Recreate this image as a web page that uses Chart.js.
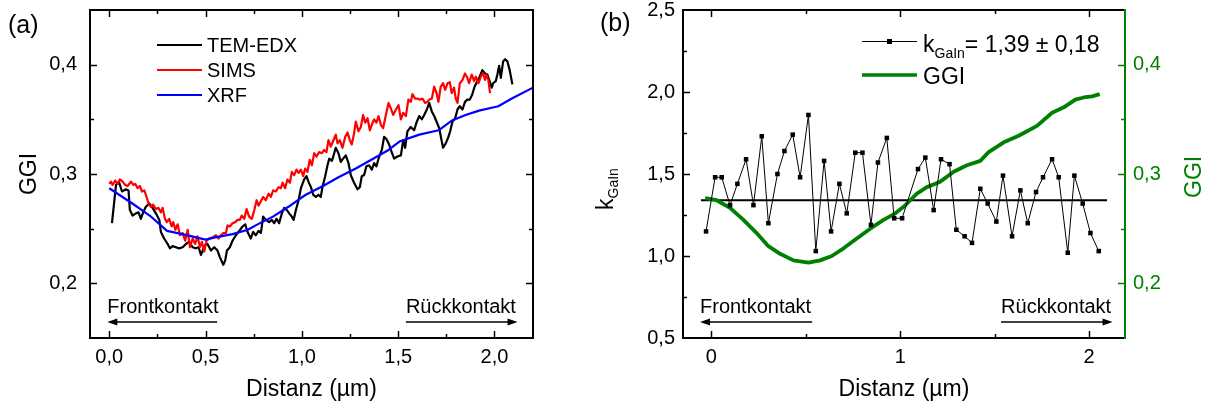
<!DOCTYPE html>
<html lang="de">
<head>
<meta charset="utf-8">
<title>GGI-Tiefenprofile und k_GaIn</title>
<script src="https://cdn.jsdelivr.net/npm/chart.js@4.4.1/dist/chart.umd.min.js"></script>
<style>
  html, body { margin: 0; padding: 0; background: #ffffff; }
  #figure { position: relative; width: 1206px; height: 405px; overflow: hidden; background: #ffffff; }
  #panelA { position: absolute; left: 0; top: 0; }
  #panelB { position: absolute; left: 590px; top: 0; }
</style>
</head>
<body>
<div id="figure">
  <canvas id="panelA" width="590" height="405"></canvas>
  <canvas id="panelB" width="616" height="405"></canvas>
</div>
<script>
// ---------- Panel (a): GGI depth profiles from three methods ----------
const temDist = [0.014,0.035,0.052,0.066,0.087,0.100,0.107,0.121,0.138,0.152,
  0.164,0.176,0.190,0.208,0.225,0.242,0.260,0.268,0.285,0.303,
  0.315,0.329,0.346,0.363,0.381,0.398,0.415,0.433,0.450,0.464,
  0.476,0.485,0.498,0.510,0.528,0.545,0.562,0.574,0.592,0.602,
  0.611,0.626,0.640,0.657,0.675,0.692,0.706,0.718,0.735,0.747,
  0.761,0.775,0.787,0.799,0.813,0.830,0.844,0.856,0.868,0.882,
  0.896,0.908,0.922,0.934,0.948,0.957,0.969,0.983,0.995,1.012,
  1.024,1.034,1.047,1.059,1.073,1.086,1.098,1.107,1.121,1.133,
  1.142,1.156,1.168,1.176,1.190,1.202,1.214,1.228,1.242,1.254,
  1.271,1.289,1.301,1.311,1.323,1.335,1.349,1.363,1.375,1.387,
  1.398,1.415,1.427,1.439,1.453,1.462,1.479,1.496,1.514,1.526,
  1.536,1.548,1.565,1.583,1.595,1.609,1.623,1.635,1.649,1.661,
  1.675,1.687,1.699,1.713,1.725,1.733,1.747,1.759,1.770,1.782,
  1.796,1.808,1.820,1.834,1.847,1.859,1.872,1.885,1.897,1.911,
  1.923,1.937,1.951,1.963,1.975,1.986,1.993,2.007,2.015,2.024,
  2.033,2.045,2.055,2.067,2.079,2.093];
const temGGI = [0.255,0.290,0.292,0.284,0.286,0.285,0.267,0.262,0.264,0.265,
  0.259,0.265,0.270,0.273,0.269,0.264,0.258,0.247,0.241,0.236,
  0.232,0.234,0.233,0.232,0.233,0.236,0.238,0.233,0.232,0.233,
  0.226,0.230,0.235,0.236,0.230,0.233,0.230,0.224,0.217,0.221,
  0.230,0.233,0.239,0.244,0.248,0.252,0.254,0.247,0.241,0.247,
  0.244,0.248,0.246,0.261,0.258,0.256,0.258,0.255,0.259,0.255,
  0.264,0.269,0.267,0.264,0.261,0.258,0.267,0.276,0.287,0.295,
  0.298,0.293,0.288,0.281,0.279,0.281,0.279,0.288,0.298,0.308,
  0.314,0.312,0.319,0.324,0.319,0.311,0.314,0.317,0.310,0.299,
  0.292,0.286,0.288,0.298,0.299,0.307,0.308,0.304,0.310,0.307,
  0.314,0.322,0.334,0.332,0.327,0.322,0.314,0.316,0.317,0.331,
  0.324,0.339,0.343,0.340,0.347,0.353,0.350,0.354,0.359,0.365,
  0.357,0.353,0.348,0.342,0.331,0.324,0.328,0.333,0.339,0.348,
  0.351,0.359,0.362,0.359,0.366,0.368,0.368,0.373,0.380,0.385,
  0.389,0.395,0.392,0.391,0.385,0.379,0.383,0.385,0.391,0.399,
  0.388,0.403,0.405,0.403,0.395,0.382];

const simsDist = [0.000,0.009,0.017,0.031,0.043,0.055,0.069,0.083,0.095,0.113,
  0.125,0.135,0.147,0.159,0.170,0.182,0.194,0.204,0.216,0.228,
  0.242,0.256,0.268,0.277,0.289,0.299,0.311,0.324,0.332,0.343,
  0.355,0.367,0.381,0.394,0.407,0.419,0.433,0.446,0.458,0.471,
  0.481,0.493,0.505,0.519,0.536,0.554,0.567,0.580,0.592,0.606,
  0.614,0.626,0.640,0.654,0.666,0.678,0.688,0.701,0.713,0.726,
  0.740,0.753,0.765,0.775,0.787,0.799,0.813,0.827,0.839,0.851,
  0.865,0.879,0.891,0.900,0.913,0.925,0.938,0.948,0.960,0.972,
  0.983,0.995,1.007,1.017,1.029,1.041,1.052,1.064,1.076,1.090,
  1.104,1.116,1.128,1.138,1.150,1.162,1.176,1.185,1.197,1.211,
  1.225,1.237,1.249,1.259,1.271,1.280,1.294,1.306,1.318,1.329,
  1.341,1.353,1.363,1.375,1.387,1.398,1.410,1.422,1.436,1.450,
  1.462,1.474,1.488,1.502,1.514,1.526,1.540,1.553,1.566,1.574,
  1.588,1.600,1.612,1.626,1.640,1.652,1.661,1.675,1.687,1.699,
  1.709,1.721,1.733,1.744,1.756,1.768,1.778,1.790,1.799,1.808,
  1.820,1.834,1.847,1.859,1.868,1.882,1.894,1.903,1.917,1.929,
  1.941,1.951,1.958,1.968,1.977];
const simsGGI = [0.291,0.293,0.290,0.294,0.291,0.295,0.293,0.290,0.289,0.293,
  0.290,0.291,0.287,0.289,0.284,0.285,0.279,0.273,0.270,0.272,
  0.268,0.269,0.265,0.269,0.259,0.256,0.259,0.252,0.256,0.249,
  0.254,0.244,0.246,0.239,0.249,0.233,0.241,0.236,0.243,0.233,
  0.238,0.229,0.239,0.241,0.242,0.244,0.241,0.244,0.246,0.246,
  0.253,0.252,0.255,0.256,0.258,0.258,0.262,0.259,0.268,0.261,
  0.259,0.267,0.276,0.271,0.275,0.279,0.276,0.282,0.279,0.285,
  0.284,0.288,0.287,0.292,0.287,0.295,0.292,0.302,0.299,0.304,
  0.301,0.304,0.298,0.305,0.302,0.313,0.308,0.319,0.316,0.320,
  0.319,0.322,0.320,0.331,0.325,0.330,0.336,0.328,0.331,0.324,
  0.334,0.338,0.331,0.327,0.337,0.348,0.339,0.343,0.354,0.347,
  0.351,0.340,0.345,0.350,0.347,0.353,0.345,0.342,0.354,0.365,
  0.360,0.354,0.359,0.363,0.350,0.356,0.353,0.368,0.366,0.373,
  0.369,0.369,0.368,0.369,0.365,0.366,0.368,0.369,0.380,0.374,
  0.366,0.380,0.383,0.377,0.383,0.384,0.374,0.379,0.369,0.365,
  0.383,0.386,0.392,0.388,0.383,0.391,0.385,0.389,0.383,0.389,
  0.392,0.386,0.391,0.386,0.374];

const xrfDist = [0.00,0.12,0.21,0.30,0.38,0.45,0.50,0.55,0.64,0.72,0.76,0.85,0.93,1.02,
  1.11,1.19,1.28,1.37,1.45,1.51,1.61,1.71,1.78,1.85,1.92,2.02,2.09,2.20];
const xrfGGI = [0.287,0.273,0.262,0.248,0.245,0.242,0.240,0.242,0.245,0.249,0.253,0.261,0.270,0.281,
  0.289,0.297,0.305,0.314,0.322,0.330,0.336,0.340,0.349,0.354,0.358,0.362,0.369,0.379];

const ticksA_x = [0, 0.5, 1, 1.5, 2];
const ticksA_y = [0.2, 0.3, 0.4];
const tickMarksA_x = [0, 0.25, 0.5, 0.75, 1, 1.25, 1.5, 1.75, 2];
const tickMarksA_y = [0.2, 0.25, 0.3, 0.35, 0.4];
const frontA = [-0.01, 0.56];
const backA = [1.54, 2.12];

// ---------- Panel (b): k_GaIn and GGI along the same line ----------
const kDist = [-0.028,0.020,0.055,0.099,0.138,0.184,0.223,0.267,0.302,0.350,
  0.387,0.431,0.470,0.514,0.553,0.597,0.634,0.678,0.717,0.762,
  0.800,0.845,0.882,0.929,0.968,1.010,1.094,1.133,1.177,
  1.216,1.261,1.297,1.341,1.380,1.424,1.463,1.509,1.544,1.592,
  1.636,1.675,1.719,1.756,1.804,1.839,1.887,1.922,1.966,2.007,2.051];
const kVal = [1.15,1.48,1.48,1.31,1.44,1.59,1.31,1.73,1.20,1.50,
  1.64,1.74,1.48,1.86,1.03,1.58,1.15,1.44,1.26,1.63,
  1.63,1.19,1.57,1.72,1.23,1.23,1.53,1.60,1.28,
  1.59,1.56,1.16,1.12,1.08,1.41,1.32,1.21,1.49,1.12,
  1.40,1.20,1.39,1.48,1.59,1.48,1.02,1.49,1.32,1.14,1.03];
const kMean = 1.34;
const kMeanDist = [-0.055, 2.095];

const ggiDist = [-0.033,0.028,0.099,0.170,0.240,0.302,0.364,0.435,0.514,0.576,
  0.638,0.700,0.770,0.841,0.912,0.974,1.018,1.053,1.088,1.141,
  1.212,1.283,1.353,1.424,1.468,1.548,1.627,1.724,1.804,1.866,
  1.927,1.971,2.016,2.056];
const ggiVal = [0.278,0.276,0.269,0.258,0.246,0.234,0.227,0.221,0.219,0.221,
  0.225,0.232,0.241,0.250,0.258,0.264,0.270,0.276,0.282,0.288,
  0.293,0.302,0.308,0.312,0.320,0.329,0.335,0.344,0.356,0.361,
  0.368,0.370,0.371,0.373];

const ticksB_x = [0, 1, 2];
const ticksB_y = [0.5, 1, 1.5, 2, 2.5];
const ticksB_y2 = [0.2, 0.3, 0.4];
const tickMarksB_x = [0, 0.5, 1, 1.5, 2];
const tickMarksB_y = [0.75, 1, 1.25, 1.5, 1.75, 2, 2.25];
const tickMarksB_y2 = [0.2, 0.25, 0.3, 0.35, 0.4];
const frontB = [-0.06, 0.534];
const backB = [1.534, 2.124];

// ---------- shared helpers ----------
const FONT = "'Liberation Sans', Arial, Helvetica, sans-serif";
const GREEN = '#008000';
Chart.defaults.font.family = FONT;
Chart.defaults.color = '#000';

const comma = (v, d) => v.toFixed(d).replace('.', ',');
const xy = (xs, ys) => xs.map((x, i) => ({ x: x, y: ys[i] }));

// fixed axis box size, no extra label padding pushed into the layout
function sized(size, horizontal) {
  return function (scale) {
    if (horizontal) scale.height = size; else scale.width = size;
    scale.paddingTop = 0; scale.paddingBottom = 0;
    scale.paddingLeft = 0; scale.paddingRight = 0;
  };
}
function setTicks(values) {
  return function (scale) { scale.ticks = values.map(v => ({ value: v })); };
}

// tick marks pointing into the plot box
function inwardTicks(ctx, scale, marks, majors, sides, a, color) {
  ctx.strokeStyle = color;
  ctx.lineWidth = 1.5;
  marks.forEach(v => {
    const p = Math.round(scale.getPixelForValue(v)) + 0.5;
    const len = majors.includes(v) ? 7 : 4;
    sides.forEach(side => {
      ctx.beginPath();
      if (side === 'bottom') { ctx.moveTo(p, a.bottom); ctx.lineTo(p, a.bottom - len); }
      if (side === 'top') { ctx.moveTo(p, a.top); ctx.lineTo(p, a.top + len); }
      if (side === 'left') { ctx.moveTo(a.left, p); ctx.lineTo(a.left + len, p); }
      if (side === 'right') { ctx.moveTo(a.right, p); ctx.lineTo(a.right - len, p); }
      ctx.stroke();
    });
  });
}

function arrow(ctx, x0, x1, y, pointLeft) {
  ctx.lineWidth = 1.5;
  ctx.beginPath();
  ctx.moveTo(pointLeft ? x0 + 6 : x0, y);
  ctx.lineTo(pointLeft ? x1 : x1 - 6, y);
  ctx.stroke();
  const tip = pointLeft ? x0 : x1;
  const dir = pointLeft ? 1 : -1;
  ctx.beginPath();
  ctx.moveTo(tip, y);
  ctx.lineTo(tip + dir * 10, y - 3.5);
  ctx.lineTo(tip + dir * 10, y + 3.5);
  ctx.closePath();
  ctx.fill();
}

// "Frontkontakt" / "Rückkontakt" direction markers above the x axis
function contactLabels(ctx, xs, a, front, back) {
  ctx.fillStyle = '#000';
  ctx.strokeStyle = '#000';
  ctx.font = '20px ' + FONT;
  ctx.textAlign = 'left';
  ctx.textBaseline = 'alphabetic';
  const y = a.bottom - 16;
  const f0 = xs.getPixelForValue(front[0]), f1 = xs.getPixelForValue(front[1]);
  ctx.fillText('Frontkontakt', f0, a.bottom - 25);
  arrow(ctx, f0, f1, y, true);
  const b0 = xs.getPixelForValue(back[0]), b1 = xs.getPixelForValue(back[1]);
  ctx.fillText('Rückkontakt', b0, a.bottom - 25);
  arrow(ctx, b0, b1, y, false);
}

function axisStyle(extra) {
  return Object.assign({
    type: 'linear',
    grid: { display: false, drawTicks: false },
    border: { display: false }
  }, extra);
}

// ---------- panel (a) ----------
const panelAOverlay = {
  id: 'panelAOverlay',
  afterDraw(chart) {
    const { ctx, chartArea: a, scales } = chart;
    ctx.save();
    ctx.strokeStyle = '#000';
    ctx.lineWidth = 2;
    ctx.strokeRect(a.left, a.top, a.right - a.left, a.bottom - a.top);
    inwardTicks(ctx, scales.x, tickMarksA_x, ticksA_x, ['bottom', 'top'], a, '#000');
    inwardTicks(ctx, scales.y, tickMarksA_y, ticksA_y, ['left', 'right'], a, '#000');

    // legend
    ctx.font = '20px ' + FONT;
    ctx.textAlign = 'left';
    ctx.textBaseline = 'middle';
    chart.data.datasets.forEach((ds, i) => {
      const y = a.top + 35 + 25 * i;
      ctx.strokeStyle = ds.borderColor;
      ctx.lineWidth = 2.2;
      ctx.beginPath();
      ctx.moveTo(a.left + 67, y);
      ctx.lineTo(a.left + 112, y);
      ctx.stroke();
      ctx.fillStyle = '#000';
      ctx.fillText(ds.label, a.left + 117, y + 1);
    });

    contactLabels(ctx, scales.x, a, frontA, backA);

    ctx.fillStyle = '#000';
    ctx.font = '25px ' + FONT;
    ctx.textBaseline = 'alphabetic';
    ctx.textAlign = 'left';
    ctx.fillText('(a)', 8, 33);
    ctx.restore();
  }
};

new Chart(document.getElementById('panelA'), {
  type: 'line',
  data: {
    datasets: [
      { label: 'TEM-EDX', data: xy(temDist, temGGI), borderColor: '#000000', borderWidth: 2.2, order: 3 },
      { label: 'SIMS', data: xy(simsDist, simsGGI), borderColor: '#ff0000', borderWidth: 2.2, order: 2 },
      { label: 'XRF', data: xy(xrfDist, xrfGGI), borderColor: '#0000ff', borderWidth: 2.2, order: 1 }
    ]
  },
  options: {
    responsive: false,
    animation: false,
    events: [],
    layout: { padding: { top: 10, right: 57, bottom: 0, left: 0 } },
    elements: {
      point: { radius: 0 },
      line: { tension: 0, fill: false, borderJoinStyle: 'round' }
    },
    plugins: { legend: { display: false }, tooltip: { enabled: false } },
    scales: {
      x: axisStyle({
        position: 'bottom', min: -0.1, max: 2.2,
        afterBuildTicks: setTicks(ticksA_x),
        afterFit: sized(67, true),
        ticks: { padding: 7, font: { size: 20 }, color: '#000', autoSkip: false, maxRotation: 0,
                 callback: v => comma(v, 1) },
        title: { display: true, text: 'Distanz (µm)', color: '#000', font: { size: 23 },
                 padding: { top: 0, bottom: 2 } }
      }),
      y: axisStyle({
        position: 'left', min: 0.15, max: 0.45,
        afterBuildTicks: setTicks(ticksA_y),
        afterFit: sized(90, false),
        ticks: { padding: 13, font: { size: 20 }, color: '#000', autoSkip: false,
                 callback: v => comma(v, 1) },
        title: { display: true, text: 'GGI', color: '#000', font: { size: 23 },
                 padding: { top: 16, bottom: 0 } }
      })
    }
  },
  plugins: [panelAOverlay]
});

// ---------- panel (b) ----------
const panelBOverlay = {
  id: 'panelBOverlay',
  afterDraw(chart) {
    const { ctx, chartArea: a, scales } = chart;
    ctx.save();
    // frame: black on three sides, green GGI axis on the right
    ctx.lineWidth = 2;
    ctx.strokeStyle = '#000';
    ctx.beginPath();
    ctx.moveTo(a.right, a.top);
    ctx.lineTo(a.left, a.top);
    ctx.lineTo(a.left, a.bottom);
    ctx.lineTo(a.right, a.bottom);
    ctx.stroke();
    ctx.strokeStyle = GREEN;
    ctx.beginPath();
    ctx.moveTo(a.right, a.top - 1);
    ctx.lineTo(a.right, a.bottom + 1);
    ctx.stroke();

    inwardTicks(ctx, scales.x, tickMarksB_x, ticksB_x, ['bottom', 'top'], a, '#000');
    inwardTicks(ctx, scales.y, tickMarksB_y, ticksB_y, ['left'], a, '#000');
    inwardTicks(ctx, scales.y2, tickMarksB_y2, ticksB_y2, ['right'], a, GREEN);

    // legend
    const kSet = chart.data.datasets[0];
    const gSet = chart.data.datasets[1];
    const lx0 = 272, lx1 = 327;
    ctx.strokeStyle = kSet.borderColor;
    ctx.lineWidth = 1;
    ctx.beginPath(); ctx.moveTo(lx0, 41.5); ctx.lineTo(lx1, 41.5); ctx.stroke();
    ctx.fillStyle = '#000';
    ctx.fillRect(297, 39, 5, 5);
    ctx.strokeStyle = gSet.borderColor;
    ctx.lineWidth = 3.5;
    ctx.beginPath(); ctx.moveTo(lx0, 75); ctx.lineTo(lx1, 75); ctx.stroke();

    ctx.fillStyle = '#000';
    ctx.textAlign = 'left';
    ctx.textBaseline = 'alphabetic';
    ctx.font = '23px ' + FONT;
    let tx = 333;
    ctx.fillText('k', tx, 51.5);
    tx += ctx.measureText('k').width;
    ctx.font = '14px ' + FONT;
    ctx.fillText('GaIn', tx, 58);
    tx += ctx.measureText('GaIn').width;
    ctx.font = '23px ' + FONT;
    ctx.fillText('= 1,39 ± 0,18', tx, 51.5);
    ctx.font = '23px ' + FONT;
    ctx.fillText('GGI', 333, 84);

    // left axis title k_GaIn, rotated
    ctx.save();
    ctx.translate(23, 210);
    ctx.rotate(-Math.PI / 2);
    ctx.font = '23px ' + FONT;
    ctx.fillText('k', 0, 0);
    const kw = ctx.measureText('k').width;
    ctx.font = '14px ' + FONT;
    ctx.fillText('GaIn', kw, 5);
    ctx.restore();

    // right axis title GGI, rotated, green
    ctx.save();
    ctx.translate(611, 198);
    ctx.rotate(-Math.PI / 2);
    ctx.fillStyle = GREEN;
    ctx.font = '23px ' + FONT;
    ctx.fillText('GGI', 0, 0);
    ctx.restore();

    contactLabels(ctx, scales.x, a, frontB, backB);

    ctx.fillStyle = '#000';
    ctx.font = '25px ' + FONT;
    ctx.textAlign = 'left';
    ctx.textBaseline = 'alphabetic';
    ctx.fillText('(b)', 10, 31);
    ctx.restore();
  }
};

new Chart(document.getElementById('panelB'), {
  type: 'line',
  data: {
    datasets: [
      { label: 'kGaIn', data: xy(kDist, kVal), yAxisID: 'y', borderColor: '#000000', borderWidth: 1,
        pointStyle: 'rect', pointRadius: 3.2, pointBackgroundColor: '#000000', pointBorderWidth: 0, order: 1 },
      { label: 'GGI', data: xy(ggiDist, ggiVal), yAxisID: 'y2', borderColor: GREEN, borderWidth: 3.8,
        pointRadius: 0, order: 2 },
      { label: 'Mittelwert', data: xy(kMeanDist, [kMean, kMean]), yAxisID: 'y', borderColor: '#000000',
        borderWidth: 2, pointRadius: 0, order: 3 }
    ]
  },
  options: {
    responsive: false,
    animation: false,
    events: [],
    layout: { padding: { top: 10, right: 0, bottom: 0, left: 0 } },
    elements: { line: { tension: 0, fill: false, borderJoinStyle: 'round' } },
    plugins: { legend: { display: false }, tooltip: { enabled: false } },
    scales: {
      x: axisStyle({
        position: 'bottom', min: -0.15, max: 2.19,
        afterBuildTicks: setTicks(ticksB_x),
        afterFit: sized(67, true),
        ticks: { padding: 7, font: { size: 20 }, color: '#000', autoSkip: false, maxRotation: 0,
                 callback: v => String(v) },
        title: { display: true, text: 'Distanz (µm)', color: '#000', font: { size: 23 },
                 padding: { top: 0, bottom: 2 } }
      }),
      y: axisStyle({
        position: 'left', min: 0.5, max: 2.5,
        afterBuildTicks: setTicks(ticksB_y),
        afterFit: sized(93, false),
        ticks: { padding: 8, font: { size: 20 }, color: '#000', autoSkip: false,
                 callback: v => comma(v, 1) }
      }),
      y2: axisStyle({
        position: 'right', min: 0.15, max: 0.45,
        afterBuildTicks: setTicks(ticksB_y2),
        afterFit: sized(81, false),
        ticks: { padding: 8, font: { size: 20 }, color: GREEN, autoSkip: false,
                 callback: v => comma(v, 1) }
      })
    }
  },
  plugins: [panelBOverlay]
});
</script>
</body>
</html>
